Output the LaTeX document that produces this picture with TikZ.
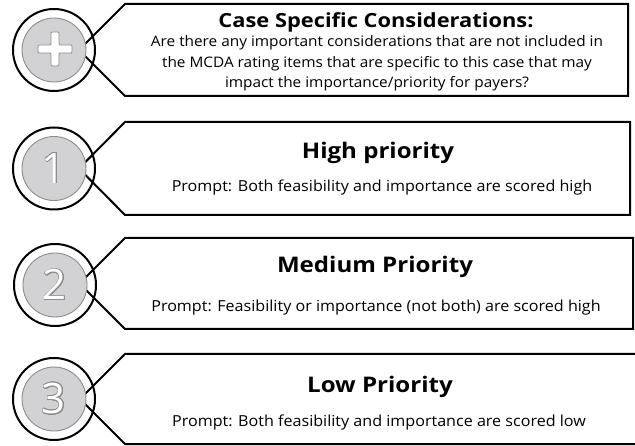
\documentclass[tikz,border=0pt]{standalone}
\usepackage{fontspec}
\setmainfont{Open Sans}
\newfontfamily\titlefont[FakeStretch=1.12]{Open Sans}
\newfontfamily\bodyfont[FakeStretch=1.06]{Open Sans}
\usepackage{contour}
\contourlength{0.7pt}
\contournumber{32}
\definecolor{ringgray}{RGB}{140,140,140}
\definecolor{fillgray}{RGB}{210,210,213}
\begin{document}
\begin{tikzpicture}[x=1pt,y=-1pt,
  tab/.style={draw=black, line width=2pt, fill=white, line join=miter},
  ring/.style={circle, draw=black, line width=2pt, minimum size=82pt, inner sep=0pt},
  disc/.style={circle, draw=ringgray, line width=0.9pt, fill=fillgray, minimum size=64pt, inner sep=0pt},
  title/.style={anchor=base, font=\titlefont\bfseries\fontsize{21.5}{24}\selectfont},
  prompt/.style={anchor=base, font=\bodyfont\fontsize{15.2}{17}\selectfont},
  head/.style={anchor=base, font=\titlefont\bfseries\fontsize{19.5}{20}\selectfont},
  body/.style={anchor=base, font=\bodyfont\fontsize{14.5}{17}\selectfont},
  digit/.style={font=\fontsize{42}{42}\selectfont, text=white, inner sep=0pt},
  plusmark/.style={fill=white, draw=ringgray, line width=0.8pt, rounded corners=1pt}
]
\useasboundingbox (0,0) rectangle (635,446);
\begin{scope}
\clip (0,0) rectangle (635,446);
% boxes
\draw[tab] (79,50) -- (125,4) -- (628,4) -- (628,96) -- (125,96) -- cycle;
\draw[tab] (79,168.5) -- (125,122) -- (630,122) -- (630,215) -- (125,215) -- cycle;
\draw[tab] (79.5,283.5) -- (125,238) -- (633,238) -- (633,329) -- (125,329) -- cycle;
\draw[tab] (80,399) -- (125,354) -- (650,354) -- (650,444) -- (125,444) -- cycle;
% circles
\node[ring] (r0) at (54,50) {};
\node[disc] (d0) at (54,50) {};
\node[ring] (r1) at (54,168.5) {};
\node[disc] (d1) at (54,168.5) {};
\node[ring] (r2) at (55,285) {};
\node[disc] (d2) at (55,285) {};
\node[ring] (r3) at (54,399) {};
\node[disc] (d3) at (54,399) {};
\end{scope}
% plus sign
\draw[plusmark] (51,32) -- (59,32) -- (59,45) -- (72,45) -- (72,53) -- (59,53) -- (59,66) -- (51,66) -- (51,53) -- (38,53) -- (38,45) -- (51,45) -- cycle;
% digits
\node[digit] (n1) at (d1.center) {\contour{ringgray}{1}};
\node[digit] (n2) at (d2.center) {\contour{ringgray}{2}};
\node[digit] (n3) at (d3.center) {\contour{ringgray}{3}};
% texts
\node[head] (h0) at (376,28) {Case Specific Considerations:};
\node[body] (b0a) at (377,47) {Are there any important considerations that are not included in};
\node[body] (b0b) at (377,67.5) {the MCDA rating items that are specific to this case that may};
\node[body] (b0c) at (377,88) {impact the importance/priority for payers?};
\node[title] (h1) at (378,159) {High priority};
\node[prompt] (p1) at (382,192) {Prompt: Both feasibility and importance are scored high};
\node[title] (h2) at (375,273) {Medium Priority};
\node[prompt] (p2) at (376,312) {Prompt: Feasibility or importance (not both) are scored high};
\node[title] (h3) at (380,393) {Low Priority};
\node[prompt] (p3) at (379,427) {Prompt: Both feasibility and importance are scored low};
\end{tikzpicture}
\end{document}
